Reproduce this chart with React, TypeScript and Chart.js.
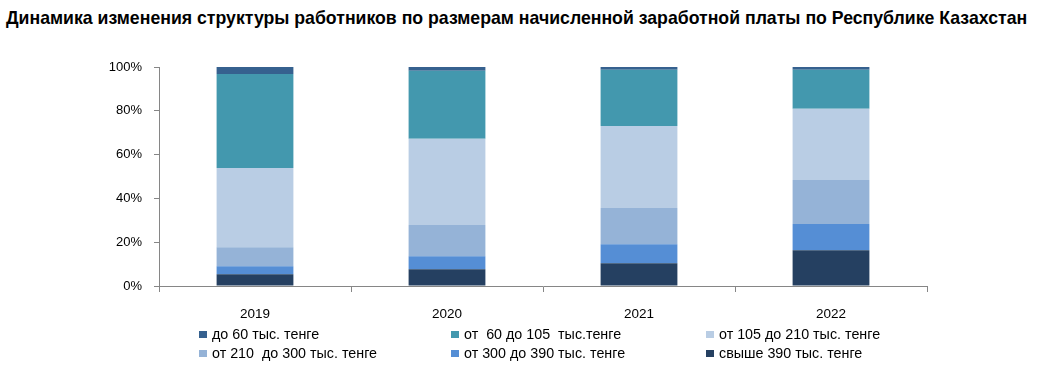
import React, { useEffect, useRef } from "react";
import { Chart, registerables } from "chart.js";

Chart.register(...registerables);

const TITLE =
  "Динамика изменения структуры работников по размерам начисленной заработной платы по Республике Казахстан";

const YEARS = ["2019", "2020", "2021", "2022"];

// Series in legend order (top of the stack first)
const SERIES_NAMES = [
  "до 60 тыс. тенге",
  "от  60 до 105  тыс.тенге",
  "от 105 до 210 тыс. тенге",
  "от 210  до 300 тыс. тенге",
  "от 300 до 390 тыс. тенге",
  "свыше 390 тыс. тенге",
];

const UP_TO_60 = [3.2, 1.7, 1.2, 1.2];
const FROM_60_TO_105 = [42.9, 31.1, 25.7, 17.9];
const FROM_105_TO_210 = [36.2, 39.4, 37.5, 32.5];
const FROM_210_TO_300 = [8.7, 14.2, 16.5, 20.1];
const FROM_300_TO_390 = [3.6, 6.0, 8.7, 12.0];
const OVER_390 = [5.4, 7.6, 10.4, 16.3];

const SERIES_VALUES = [
  UP_TO_60,
  FROM_60_TO_105,
  FROM_105_TO_210,
  FROM_210_TO_300,
  FROM_300_TO_390,
  OVER_390,
];

const SERIES_COLORS = [
  "#36618F",
  "#4398AE",
  "#B9CDE4",
  "#95B3D7",
  "#558ED5",
  "#254061",
];

const Y_MIN = 0;
const Y_MAX = 100;
const Y_STEP = 20;

const FONT = "'Liberation Sans', Arial, sans-serif";
const AXIS_COLOR = "#868686";

export default function App() {
  const canvasRef = useRef<HTMLCanvasElement | null>(null);

  useEffect(() => {
    if (!canvasRef.current) return;
    // stack from bottom: reverse of legend order
    const order = [5, 4, 3, 2, 1, 0];
    const chart = new Chart(canvasRef.current, {
      type: "bar",
      data: {
        labels: YEARS,
        datasets: order.map((i) => ({
          label: SERIES_NAMES[i],
          data: SERIES_VALUES[i],
          backgroundColor: SERIES_COLORS[i],
          borderWidth: 0,
          barPercentage: 0.4,
          categoryPercentage: 1.0,
        })),
      },
      options: {
        responsive: false,
        animation: false,
        layout: { padding: { top: 67, right: 110, bottom: 0, left: 0 } },
        plugins: {
          legend: { display: false },
          title: { display: false },
          tooltip: { enabled: false },
        },
        scales: {
          x: {
            stacked: true,
            grid: {
              display: true,
              drawOnChartArea: false,
              drawTicks: true,
              tickLength: 6,
              color: AXIS_COLOR,
              offset: true,
            },
            border: { display: true, color: AXIS_COLOR, width: 1 },
            ticks: {
              color: "#000",
              font: { family: FONT, size: 13.5 },
              padding: 14,
            },
            afterFit: (scale: any) => {
              scale.height = 84;
            },
          },
          y: {
            stacked: true,
            min: Y_MIN,
            max: Y_MAX,
            grid: {
              display: true,
              drawOnChartArea: false,
              drawTicks: true,
              tickLength: 5,
              color: AXIS_COLOR,
            },
            border: { display: true, color: AXIS_COLOR, width: 1 },
            ticks: {
              stepSize: Y_STEP,
              color: "#000",
              font: { family: FONT, size: 13 },
              padding: 12,
              callback: (v: any) => `${v}%`,
            },
            afterFit: (scale: any) => {
              scale.width = 159;
            },
          },
        },
      },
    });
    return () => chart.destroy();
  }, []);

  const legendCols = [199, 451, 706];
  const legendRows = [334, 353];

  return (
    <div
      style={{
        position: "absolute",
        left: 0,
        top: 0,
        width: 1037,
        height: 370,
        background: "#fff",
        overflow: "hidden",
      }}
    >
      <div
        style={{
          position: "absolute",
          left: 6,
          top: 6,
          fontFamily: FONT,
          fontWeight: "bold",
          fontSize: 17.7,
          lineHeight: "24px",
          whiteSpace: "pre",
          color: "#000",
        }}
      >
        {TITLE}
      </div>
      <canvas
        ref={canvasRef}
        width={1037}
        height={370}
        style={{ position: "absolute", left: 0, top: 0 }}
      />
      {SERIES_NAMES.map((name, i) => {
        const col = i % 3;
        const row = Math.floor(i / 3);
        return (
          <div
            key={name}
            style={{
              position: "absolute",
              left: legendCols[col],
              top: legendRows[row] - 9,
              height: 18,
              display: "flex",
              alignItems: "center",
              fontFamily: FONT,
              fontSize: 14.3,
              color: "#000",
              whiteSpace: "pre",
            }}
          >
            <span
              style={{
                display: "inline-block",
                width: 8,
                height: 7,
                background: SERIES_COLORS[i],
                marginRight: 5,
              }}
            />
            <span>{name}</span>
          </div>
        );
      })}
    </div>
  );
}
